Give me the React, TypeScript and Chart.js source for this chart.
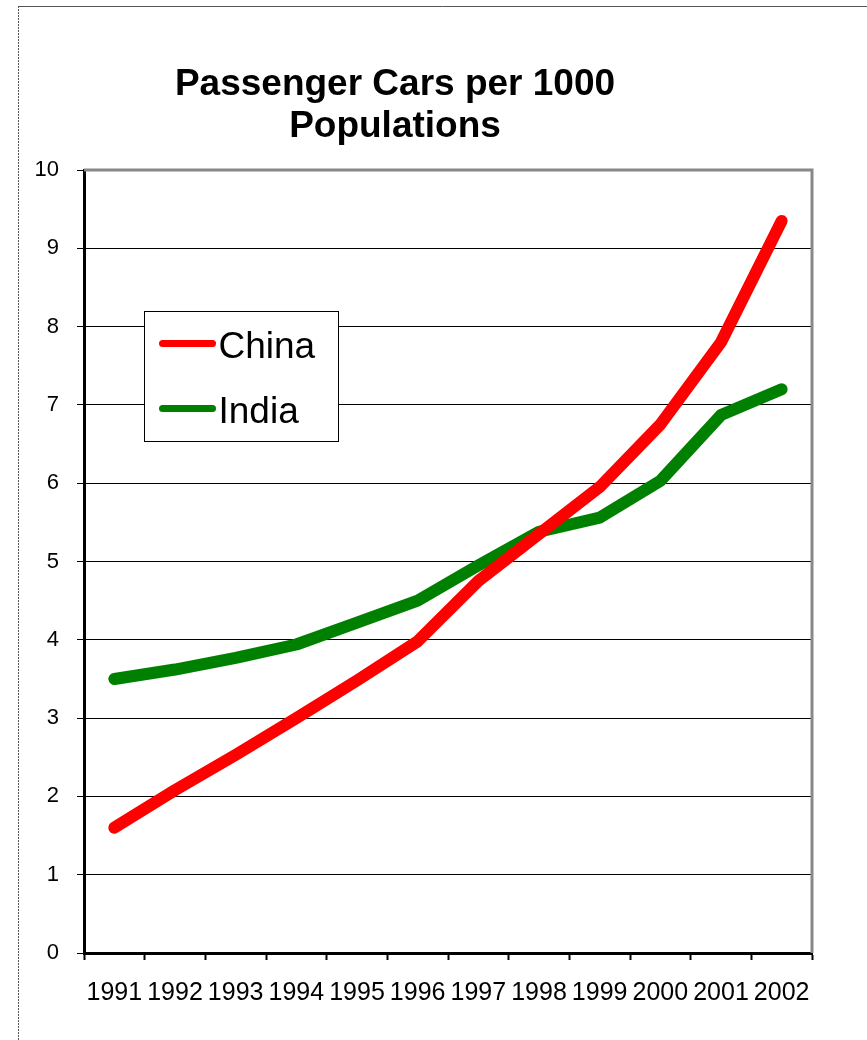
import React, { useEffect, useRef } from "react";
import { Chart, registerables } from "chart.js";

Chart.register(...registerables);

// Passenger cars per 1000 population, 1991–2002
const years = ["1991", "1992", "1993", "1994", "1995", "1996", "1997", "1998", "1999", "2000", "2001", "2002"];
const chinaValues = [1.6, 2.08, 2.53, 3.0, 3.48, 3.98, 4.75, 5.35, 5.95, 6.75, 7.8, 9.35];
const indiaValues = [3.5, 3.62, 3.77, 3.94, 4.22, 4.5, 4.95, 5.38, 5.56, 6.03, 6.87, 7.2];
const seriesNames = ["China", "India"];
const seriesColors = ["#ff0000", "#008000"];
const titleLines = ["Passenger Cars per 1000", "Populations"];
const yTicks = [0, 1, 2, 3, 4, 5, 6, 7, 8, 9, 10];

const FONT = "'Liberation Sans', Arial, sans-serif";

// Outer frame, plot border, title and the boxed legend
const decorations = {
  id: "decorations",
  beforeDraw(chart: any) {
    const { ctx, width, height } = chart;
    ctx.save();
    ctx.fillStyle = "#ffffff";
    ctx.fillRect(0, 0, width, height);
    ctx.strokeStyle = "#555555";
    ctx.lineWidth = 1;
    ctx.beginPath();
    ctx.moveTo(18, 6.5);
    ctx.lineTo(width, 6.5);
    ctx.stroke();
    ctx.setLineDash([2, 1]);
    ctx.beginPath();
    ctx.moveTo(18.5, 6);
    ctx.lineTo(18.5, height);
    ctx.stroke();
    ctx.restore();
  },
  beforeDatasetsDraw(chart: any) {
    const { ctx, chartArea } = chart;
    ctx.save();
    ctx.strokeStyle = "#888888";
    ctx.lineWidth = 3;
    ctx.beginPath();
    ctx.moveTo(chartArea.left, chartArea.top);
    ctx.lineTo(chartArea.right, chartArea.top);
    ctx.lineTo(chartArea.right, chartArea.bottom);
    ctx.stroke();
    ctx.restore();
  },
  afterDatasetsDraw(chart: any) {
    const { ctx, chartArea } = chart;
    ctx.save();
    // title
    ctx.fillStyle = "#000000";
    ctx.textAlign = "center";
    ctx.textBaseline = "alphabetic";
    ctx.font = `bold 37px ${FONT}`;
    ctx.fillText(titleLines[0], 395, 95);
    ctx.fillText(titleLines[1], 395, 137);

    // legend box
    const bx = chartArea.left + 60.5;
    const by = chartArea.top + 141.5;
    ctx.fillStyle = "#ffffff";
    ctx.fillRect(bx, by, 194, 130);
    ctx.strokeStyle = "#000000";
    ctx.lineWidth = 1;
    ctx.strokeRect(bx, by, 194, 130);
    chart.data.datasets.forEach((ds: any, i: number) => {
      const ly = by + 32 + i * 65;
      ctx.strokeStyle = ds.borderColor;
      ctx.lineWidth = 7;
      ctx.lineCap = "round";
      ctx.beginPath();
      ctx.moveTo(bx + 18, ly);
      ctx.lineTo(bx + 68, ly);
      ctx.stroke();
      ctx.fillStyle = "#000000";
      ctx.textAlign = "left";
      ctx.textBaseline = "alphabetic";
      ctx.font = `37px ${FONT}`;
      ctx.fillText(ds.label, bx + 74, ly + 14);
    });
    ctx.restore();
  },
};

export default function App() {
  const canvasRef = useRef<HTMLCanvasElement | null>(null);

  useEffect(() => {
    const canvas = canvasRef.current;
    if (!canvas) return;
    const chart = new Chart(canvas, {
      type: "line",
      data: {
        labels: years,
        datasets: [chinaValues, indiaValues].map((values, i) => ({
          label: seriesNames[i],
          data: values,
          borderColor: seriesColors[i],
          backgroundColor: seriesColors[i],
          borderWidth: 12,
          borderCapStyle: "round" as const,
          borderJoinStyle: "round" as const,
          pointRadius: 0,
          pointHoverRadius: 0,
          tension: 0,
          fill: false,
        })),
      },
      options: {
        responsive: false,
        animation: false,
        devicePixelRatio: 1,
        events: [],
        layout: { padding: { left: 0, right: 55, top: 170, bottom: 0 } },
        plugins: {
          legend: { display: false },
          title: { display: false },
          tooltip: { enabled: false },
        },
        scales: {
          x: {
            type: "category",
            offset: true,
            afterFit(scale: any) {
              scale.height = 87;
            },
            grid: {
              offset: true,
              drawOnChartArea: false,
              drawTicks: true,
              tickLength: 7,
              tickWidth: 2,
              tickColor: "#000000",
              color: "#000000",
            },
            border: { display: true, color: "#000000", width: 3 },
            ticks: {
              autoSkip: false,
              maxRotation: 0,
              minRotation: 0,
              padding: 18,
              color: "#000000",
              font: { family: FONT, size: 25 },
            },
          },
          y: {
            min: 0,
            max: 10,
            afterFit(scale: any) {
              scale.width = 84;
            },
            afterBuildTicks(scale: any) {
              scale.ticks = yTicks.map((v) => ({ value: v }));
            },
            grid: {
              color: "#000000",
              lineWidth: 1,
              drawTicks: true,
              tickLength: 7,
              tickColor: "#000000",
            },
            border: { display: true, color: "#000000", width: 3 },
            ticks: {
              padding: 18,
              color: "#000000",
              font: { family: FONT, size: 22 },
            },
          },
        },
      },
      plugins: [decorations],
    });
    return () => chart.destroy();
  }, []);

  return (
    <div style={{ position: "fixed", left: 0, top: 0, width: 867, height: 1040, background: "#ffffff" }}>
      <canvas ref={canvasRef} width={867} height={1040} style={{ display: "block" }} />
    </div>
  );
}
